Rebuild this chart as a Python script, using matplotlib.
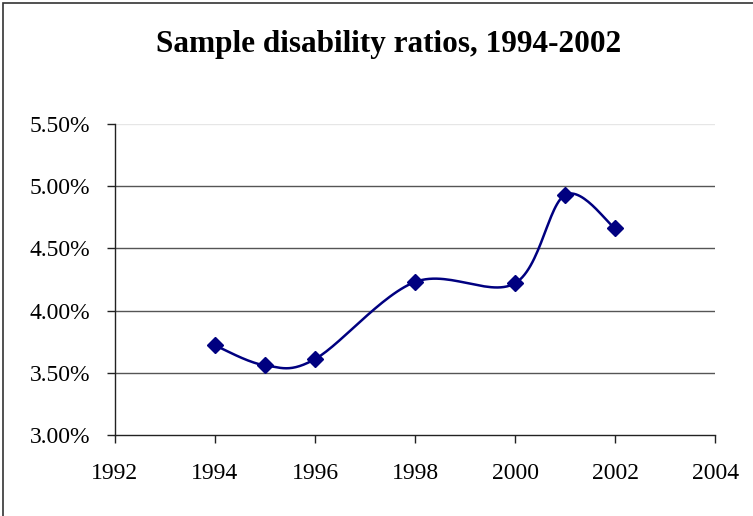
import numpy as np
import matplotlib.pyplot as plt
from matplotlib.patches import Rectangle
from matplotlib.ticker import FuncFormatter

years = [1994, 1995, 1996, 1998, 2000, 2001, 2002]
ratios = [3.72, 3.56, 3.61, 4.23, 4.22, 4.93, 4.66]  # percent

plt.rcParams['font.family'] = ['Liberation Serif', 'DejaVu Serif']


def smooth_curve(x, y, steps=30):
    # Excel-style smoothed line: cubic Bezier segments with 1/6 tangents
    x = np.asarray(x, float)
    y = np.asarray(y, float)
    px = np.concatenate([[x[0]], x, [x[-1]]])
    py = np.concatenate([[y[0]], y, [y[-1]]])
    t = np.linspace(0, 1, steps)
    xs, ys = [], []
    for i in range(1, len(px) - 2):
        p0 = np.array([px[i], py[i]])
        p3 = np.array([px[i + 1], py[i + 1]])
        c1 = p0 + (np.array([px[i + 1], py[i + 1]]) - np.array([px[i - 1], py[i - 1]])) / 6
        c2 = p3 - (np.array([px[i + 2], py[i + 2]]) - p0) / 6
        b = ((1 - t) ** 3)[:, None] * p0 + (3 * (1 - t) ** 2 * t)[:, None] * c1 \
            + (3 * (1 - t) * t ** 2)[:, None] * c2 + (t ** 3)[:, None] * p3
        xs.extend(b[:, 0])
        ys.extend(b[:, 1])
    return np.array(xs), np.array(ys)


fig = plt.figure(figsize=(7.53, 5.16), dpi=100)
ax = fig.add_axes([0.1527, 0.157, 0.797, 0.6027])

fig.patches.append(Rectangle((0.004, -0.1), 1.1, 1.094, transform=fig.transFigure,
                             fill=False, edgecolor='#333333', linewidth=1.2))

sx, sy = smooth_curve(years, ratios)
ax.plot(sx, sy, color='#000080', linewidth=1.8, zorder=3)
ax.plot(years, ratios, linestyle='none', marker='D', markersize=8,
        color='#000080', zorder=4)

ax.set_xlim(1992, 2004)
ax.set_ylim(3.0, 5.5)
ax.set_xticks(range(1992, 2005, 2))
ax.set_yticks(np.arange(3.0, 5.51, 0.5))
ax.yaxis.set_major_formatter(FuncFormatter(lambda v, p: f'{v:.2f}%'))

for v in np.arange(3.5, 5.01, 0.5):
    ax.axhline(v, color='#555555', linewidth=1.0, zorder=1)
ax.axhline(5.5, color='#e6e6e6', linewidth=1.0, zorder=1)

for s in ['top', 'right']:
    ax.spines[s].set_visible(False)
for s in ['left', 'bottom']:
    ax.spines[s].set_color('#222222')
    ax.spines[s].set_linewidth(1.0)

ax.tick_params(axis='both', direction='out', length=6, width=1.0,
               color='#222222', labelsize=17)
ax.tick_params(axis='x', pad=14)
ax.tick_params(axis='y', pad=12)

fig.text(0.516, 0.913, 'Sample disability ratios, 1994-2002', ha='center',
         va='center', fontsize=22.5, fontweight='bold')

fig.savefig('out.png', dpi=100)
